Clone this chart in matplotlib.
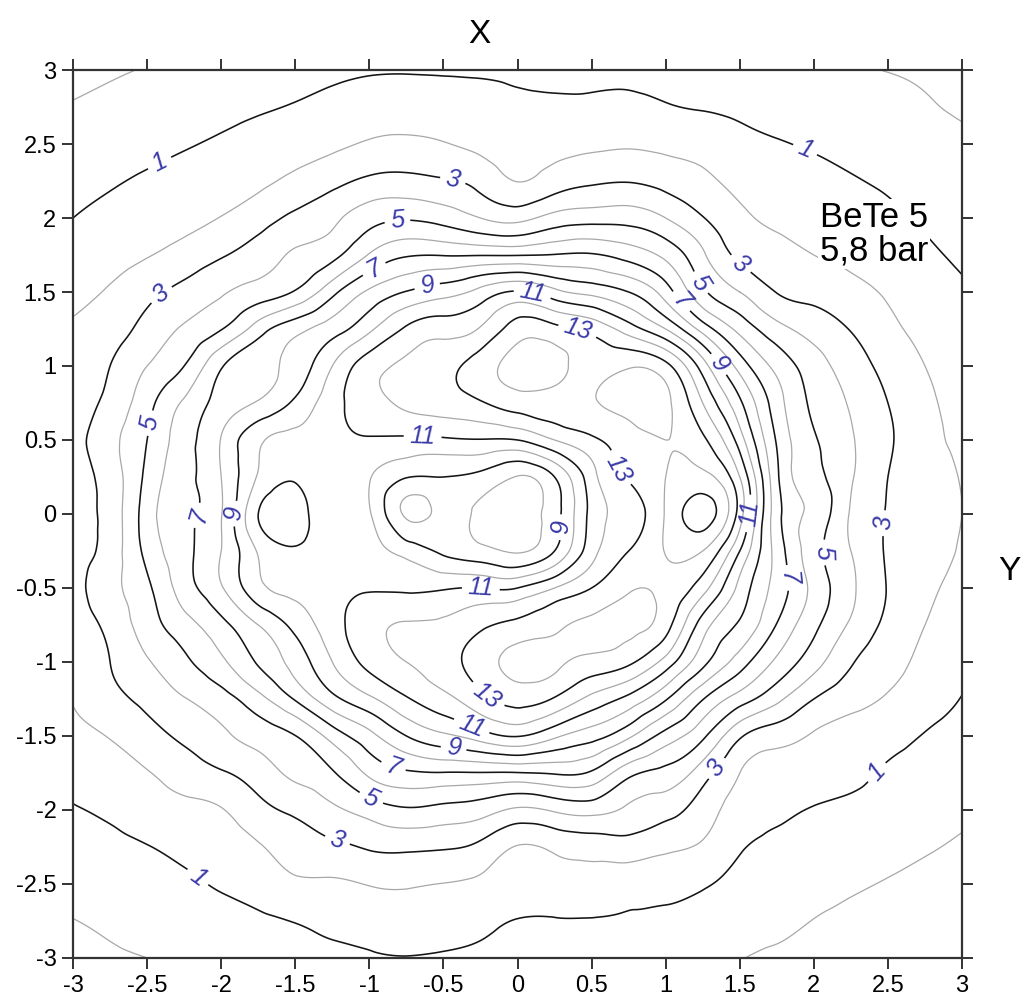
import numpy as np
import matplotlib
matplotlib.use("Agg")
import matplotlib.pyplot as plt
import matplotlib.tri as mtri

plt.rcParams['font.family'] = ['Liberation Sans', 'DejaVu Sans']

# grid positions (X / Y in the chart)
grid_x = [-3.0, -2.75, -2.5, -2.25, -2.0, -1.75, -1.5, -1.25, -1.0, -0.75, -0.5, -0.25, 0.0,
          0.25, 0.5, 0.75, 1.0, 1.25, 1.5, 1.75, 2.0, 2.25, 2.5, 2.75, 3.0]
grid_y = [3.0, 2.75, 2.5, 2.25, 2.0, 1.75, 1.5, 1.25, 1.0, 0.75, 0.5, 0.25, 0.0,
          -0.25, -0.5, -0.75, -1.0, -1.25, -1.5, -1.75, -2.0, -2.25, -2.5, -2.75, -3.0]

# values, one row per grid_y (left to right along grid_x)
row_p300 = [-0.25, -0.1, 0.05, 0.24, 0.41, 0.57, 0.71, 0.83, 0.92, 0.94, 0.92, 0.89, 0.86, 0.78, 0.78, 0.8, 0.73, 0.66, 0.6, 0.48, 0.33, 0.15, -0.03, -0.15, -0.3]
row_p275 = [0.06, 0.23, 0.42, 0.58, 0.75, 0.9, 1.06, 1.26, 1.45, 1.5, 1.43, 1.33, 1.22, 1.17, 1.18, 1.22, 1.06, 0.95, 0.86, 0.76, 0.62, 0.45, 0.35, 0.1, -0.1]
row_p250 = [0.38, 0.57, 0.76, 0.93, 1.12, 1.34, 1.58, 1.82, 2.1, 2.2, 2.05, 1.77, 1.6, 1.68, 1.8, 1.89, 1.75, 1.57, 1.24, 1.05, 0.92, 0.76, 0.56, 0.34, 0.16]
row_p225 = [0.69, 0.9, 1.13, 1.33, 1.55, 1.81, 2.22, 2.7, 3.2, 3.3, 3.1, 2.65, 1.98, 2.47, 2.85, 2.95, 2.67, 2.24, 1.7, 1.42, 1.26, 1.07, 0.86, 0.61, 0.4]
row_p200 = [1.0, 1.29, 1.54, 1.74, 2.03, 2.55, 3.24, 3.78, 4.6, 4.9, 4.6, 4.0, 3.7, 4.36, 4.6, 4.6, 4.0, 3.05, 2.2, 1.8, 1.61, 1.44, 1.19, 0.88, 0.64]
row_p175 = [1.39, 1.68, 1.95, 2.35, 2.9, 3.5, 4.1, 4.7, 6.08, 6.9, 6.95, 6.95, 6.95, 7.05, 7.1, 6.6, 5.75, 4.15, 2.79, 2.32, 2.0, 1.79, 1.53, 1.16, 0.88]
row_p150 = [1.78, 2.09, 2.69, 3.33, 3.9, 4.43, 5.1, 6.7, 8.17, 9.05, 9.6, 10.33, 11.1, 10.3, 9.7, 9.0, 7.5, 5.2, 4.0, 2.97, 2.67, 2.3, 1.89, 1.43, 1.1]
row_p125 = [2.1, 2.54, 3.35, 4.1, 4.95, 6.5, 7.65, 8.55, 9.8, 11.15, 11.6, 12.1, 13.5, 13.3, 12.7, 11.5, 10.0, 7.6, 5.7, 4.35, 3.6, 2.95, 2.25, 1.71, 1.3]
row_p100 = [2.3, 3.0, 4.0, 5.0, 6.9, 7.7, 8.4, 10.0, 11.55, 12.2, 12.7, 13.5, 14.4, 14.3, 13.7, 13.9, 13.3, 10.5, 7.6, 5.7, 4.45, 3.5, 2.68, 2.0, 1.5]
row_p075 = [2.5, 3.3, 4.65, 6.15, 7.4, 8.1, 9.2, 10.6, 11.6, 12.2, 12.5, 12.9, 13.5, 13.6, 13.9, 14.3, 14.2, 12.0, 9.2, 6.45, 4.8, 3.9, 3.0, 2.2, 1.7]
row_p050 = [2.6, 3.7, 5.0, 6.6, 8.05, 9.8, 10.3, 10.6, 10.9, 10.8, 10.85, 10.95, 11.0, 12.0, 12.8, 13.6, 14.0, 13.2, 10.5, 6.9, 5.1, 4.1, 3.15, 2.3, 1.85]
row_p025 = [2.7, 3.45, 5.25, 6.7, 8.0, 10.1, 10.9, 10.6, 10.05, 9.05, 9.0, 8.7, 7.95, 9.0, 11.6, 13.1, 14.0, 14.3, 12.0, 7.2, 5.3, 4.1, 3.0, 2.4, 1.95]
row_000 = [2.72, 3.4, 5.5, 6.8, 7.95, 11.0, 11.4, 10.7, 10.1, 7.85, 8.3, 7.8, 7.5, 8.6, 11.3, 12.5, 14.1, 15.4, 12.5, 7.4, 5.7, 3.9, 2.95, 2.45, 2.0]
row_m025 = [2.7, 3.45, 5.3, 6.7, 8.0, 10.1, 10.9, 10.6, 10.3, 9.6, 8.8, 8.3, 7.9, 9.0, 11.6, 13.0, 14.05, 14.0, 11.0, 7.6, 5.4, 4.0, 2.9, 2.4, 1.9]
row_m050 = [2.55, 3.7, 4.8, 6.5, 7.9, 9.7, 10.3, 10.6, 10.9, 10.85, 10.9, 11.0, 11.0, 12.0, 13.0, 13.9, 13.8, 12.4, 9.7, 7.6, 5.7, 4.2, 2.95, 2.2, 1.75]
row_m075 = [2.4, 3.3, 4.5, 5.6, 6.7, 8.0, 9.3, 10.6, 11.6, 12.1, 12.2, 12.8, 13.3, 13.8, 14.2, 14.2, 13.4, 10.5, 8.85, 6.95, 5.25, 3.85, 2.75, 2.0, 1.5]
row_m100 = [2.2, 3.0, 3.9, 4.8, 5.8, 7.1, 8.4, 10.0, 11.3, 12.0, 12.6, 13.5, 14.3, 14.2, 13.7, 13.2, 11.6, 9.3, 7.5, 5.8, 4.4, 3.1, 2.35, 1.75, 1.25]
row_m125 = [2.05, 2.7, 3.27, 3.95, 4.6, 5.67, 7.1, 8.7, 9.8, 10.9, 11.7, 12.7, 13.4, 12.9, 11.7, 10.7, 9.1, 7.05, 5.5, 4.25, 3.0, 2.35, 1.9, 1.43, 0.97]
row_m150 = [1.71, 2.05, 2.6, 3.2, 3.79, 4.38, 4.98, 6.4, 7.7, 9.0, 9.8, 10.5, 11.05, 10.2, 9.4, 8.2, 6.6, 5.2, 3.15, 2.4, 1.9, 1.55, 1.3, 0.95, 0.7]
row_m175 = [1.3, 1.65, 1.95, 2.45, 2.9, 3.5, 4.2, 4.9, 6.2, 6.85, 6.95, 6.95, 6.95, 7.1, 6.85, 5.3, 4.68, 3.47, 2.0, 1.57, 1.4, 1.2, 0.9, 0.65, 0.44]
row_m200 = [0.94, 1.16, 1.48, 1.76, 1.95, 2.67, 3.2, 3.8, 4.42, 4.87, 4.69, 4.44, 3.84, 4.13, 4.36, 3.82, 3.37, 2.5, 1.55, 1.15, 0.95, 0.8, 0.6, 0.37, 0.17]
row_m225 = [0.61, 0.79, 0.97, 1.25, 1.52, 1.9, 2.5, 2.78, 3.1, 3.2, 3.1, 2.75, 1.95, 2.2, 2.42, 2.55, 2.2, 1.85, 1.1, 0.8, 0.6, 0.45, 0.25, 0.07, -0.1]
row_m250 = [0.3, 0.45, 0.65, 0.82, 1.1, 1.35, 1.8, 1.85, 2.05, 2.1, 1.98, 1.8, 1.45, 1.5, 1.6, 1.4, 1.33, 1.1, 0.73, 0.47, 0.31, 0.12, -0.05, -0.2, -0.35]
row_m275 = [-0.02, 0.15, 0.35, 0.5, 0.72, 0.88, 1.03, 1.2, 1.35, 1.5, 1.37, 1.2, 0.97, 0.95, 0.95, 0.92, 0.8, 0.66, 0.38, 0.2, -0.02, -0.2, -0.35, -0.5, -0.65]
row_m300 = [-0.3, -0.12, 0.0, 0.18, 0.35, 0.52, 0.7, 0.82, 0.92, 0.97, 0.92, 0.85, 0.7, 0.65, 0.65, 0.6, 0.45, 0.25, 0.03, -0.15, -0.3, -0.45, -0.6, -0.75, -0.9]

black_levels = [1, 3, 5, 7, 9, 11, 13, 15]
grey_levels = [0, 2, 4, 6, 8, 10, 12, 14]
labelled_levels = [1, 3, 5, 7, 9, 11, 13]

tick_values = [-3, -2.5, -2, -1.5, -1, -0.5, 0, 0.5, 1, 1.5, 2, 2.5, 3]
tick_text = ['-3', '-2.5', '-2', '-1.5', '-1', '-0.5', '0', '0.5', '1', '1.5', '2', '2.5', '3']

# where the contour numbers sit
label_spots = [(-2.41, 2.36), (1.94, 2.46), (2.43, -1.75), (-2.14, -2.43),
               (-2.41, 1.49), (-0.44, 2.24), (1.49, 1.67), (2.45, -0.06), (1.32, -1.7), (-1.22, -2.22),
               (-0.81, 1.97), (1.23, 1.56), (-2.46, 0.61), (2.09, -0.26), (-0.96, -1.86),
               (-0.97, 1.66), (1.12, 1.45), (-2.2, 0.0), (1.84, -0.43), (-0.83, -1.68),
               (-0.61, 1.54), (1.37, 1.02), (-1.89, 0.0), (0.29, -0.09), (-0.43, -1.57),
               (0.1, 1.49), (-0.64, 0.55), (1.59, 0.0), (-0.25, -0.53), (-0.3, -1.41),
               (0.4, 1.22), (0.71, 0.32), (-0.19, -1.21)]

Z = np.array([row_p300, row_p275, row_p250, row_p225, row_p200, row_p175, row_p150,
              row_p125, row_p100, row_p075, row_p050, row_p025, row_000, row_m025,
              row_m050, row_m075, row_m100, row_m125, row_m150, row_m175, row_m200,
              row_m225, row_m250, row_m275, row_m300])
X, Y = np.meshgrid(grid_x, grid_y)

# smooth curves: let matplotlib refine the triangulated grid
tri = mtri.Triangulation(X.ravel(), Y.ravel())
interp = mtri.CubicTriInterpolator(tri, Z.ravel(), kind='min_E')
fine_tri, fine_z = mtri.UniformTriRefiner(tri).refine_field(Z.ravel(), triinterpolator=interp, subdiv=4)

fig = plt.figure(figsize=(10.23, 9.96), dpi=100)
ax = fig.add_axes([0.0714, 0.0382, 0.869, 0.8915])

ax.tricontour(fine_tri, fine_z, levels=grey_levels, colors='#a8a8a8', linewidths=0.9)
cs = ax.tricontour(fine_tri, fine_z, levels=black_levels, colors='#151515', linewidths=1.15)
lbls = ax.clabel(cs, levels=labelled_levels, manual=label_spots, inline=True,
                 inline_spacing=6, fmt='%d', fontsize=18, colors='#3a3aa8')
for t in lbls:
    t.set_fontstyle('italic')

ax.set_xlim(-3, 3)
ax.set_ylim(-3, 3)
ax.set_xticks(tick_values)
ax.set_xticklabels(tick_text)
ax.set_yticks(tick_values)
ax.set_yticklabels(tick_text)
ax.tick_params(direction='out', length=8, width=1.4, top=True, right=True,
               labelsize=17, color='#333333', pad=4)
for s in ax.spines.values():
    s.set_linewidth(1.6)
    s.set_color('#333333')

fig.text(0.469, 0.965, 'X', fontsize=24, ha='center', va='center')
fig.text(0.987, 0.426, 'Y', fontsize=24, ha='center', va='center')
ax.text(2.04, 1.89, 'BeTe 5\n5,8 bar', fontsize=25, ha='left', va='center',
        linespacing=1.05, bbox=dict(facecolor='white', edgecolor='none', pad=1))

fig.savefig('out.png', dpi=100)
